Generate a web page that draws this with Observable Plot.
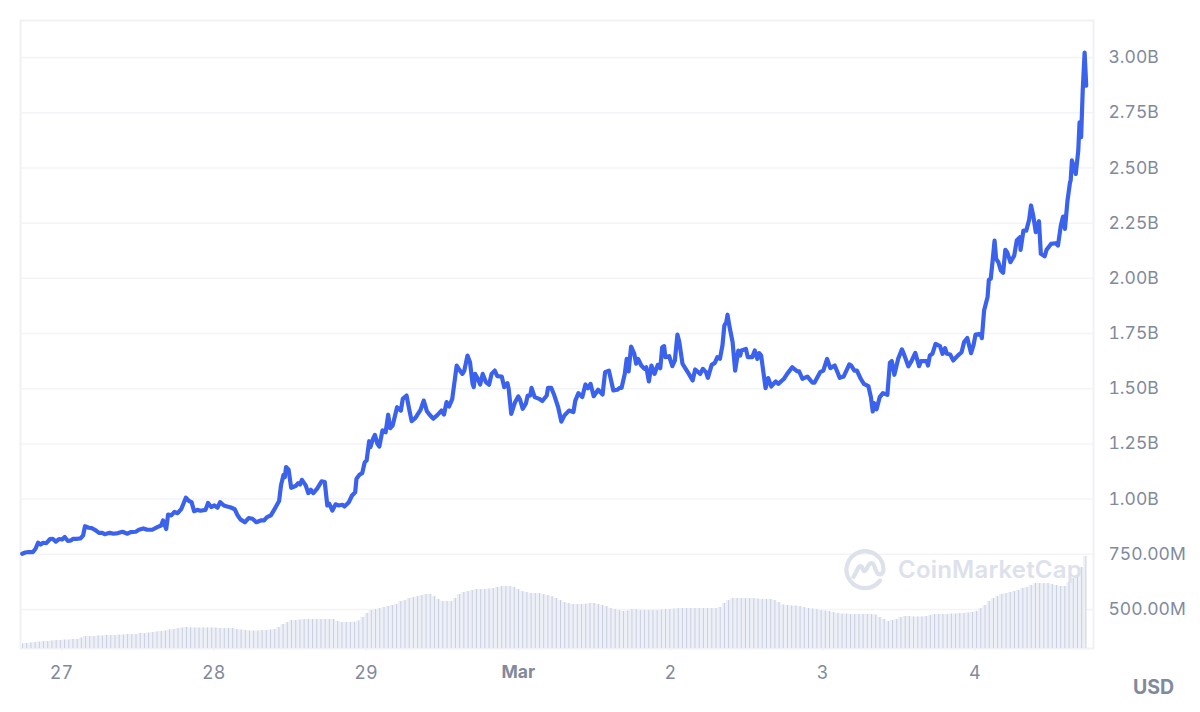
<!DOCTYPE html>
<html>
<head>
<meta charset="utf-8">
<script src="https://cdn.jsdelivr.net/npm/d3@7"></script>
<script src="https://cdn.jsdelivr.net/npm/@observablehq/plot@0.6"></script>
<style>
html,body{margin:0;padding:0;background:#fff;}
#wrap{position:relative;width:1200px;height:712px;font-family:Inter,"Noto Sans",sans-serif;overflow:hidden;}
#usd{position:absolute;left:1133px;top:676px;font-size:19.5px;font-weight:700;color:#808a9d;line-height:22px;}
#mark{position:absolute;left:844px;top:548px;pointer-events:none;}
#markText{position:absolute;left:898px;top:555px;font-size:24px;font-weight:600;color:#dde1ec;line-height:30px;letter-spacing:.2px;white-space:nowrap;}
</style>
</head>
<body>
<div id="wrap">
<div id="chart"></div>
<svg id="mark" width="44" height="44" viewBox="0 0 44 44" fill="none" stroke="#dde1ec" stroke-width="4.2" stroke-linecap="round" stroke-linejoin="round">
<path d="M36 32.5 A18.5 18.5 0 1 1 39.5 21 C39.5 26 36 27.5 33.5 25.5 C31.5 23.8 31 17 28.5 15.5 C26 14 24.5 17 23 20 C21.5 23 20 24.5 19 21.5 C18 18.5 16.5 16.5 14.5 19.5 L9.5 29"/>
</svg>
<div id="markText">CoinMarketCap</div>
<div id="usd">USD</div>
</div>
<script>
// Hours after 27 Feb 2024 00:00 UTC for each price reading
const priceHours = [
-6.2,-5.7,-5.2,-4.5,-4.1,-3.7,-3.3,-2.9,-2.4,-1.8,-1.4,-0.9,-0.4,0.1,0.5,1.0,1.5,1.8,2.5,3.0,3.4,3.7,4.3,4.8,5.4,5.9,6.4,6.8,7.6,8.2,8.9,9.6,10.4,10.9,11.7,12.2,12.9,13.5,14.3,15.1,15.7,16.0,16.5,16.8,17.3,17.8,18.3,18.9,19.6,20.1,20.5,20.9,21.4,21.9,22.7,23.1,23.6,24.1,24.6,25.0,
25.6,26.1,26.6,27.3,27.7,28.2,28.9,29.5,30.1,30.7,31.4,31.9,32.4,33.0,33.4,34.3,34.6,35.0,35.2,35.4,35.8,36.2,36.9,37.3,37.6,37.9,38.5,38.9,39.3,39.7,40.3,41.0,41.5,41.9,42.2,42.7,43.2,43.7,44.3,44.6,45.3,45.8,46.3,46.5,47.0,47.4,47.8,48.1,48.5,48.7,49.1,49.4,49.8,50.1,50.6,51.1,51.5,51.8,52.2,52.9,53.5,53.8,54.4,54.8,55.2,55.8,56.2,
56.6,57.1,57.6,58.0,58.6,59.2,59.9,60.3,60.7,61.1,61.6,62.3,62.8,63.2,63.5,64.0,64.4,64.8,65.0,65.2,65.5,66.0,66.4,66.9,67.4,67.8,68.3,68.7,69.4,69.8,70.3,70.5,70.9,71.5,72.0,72.3,72.7,73.2,73.5,73.9,74.1,74.6,75.3,75.8,76.5,76.7,77.2,77.7,78.3,78.8,79.3,80.0,80.7,81.0,81.5,82.1,82.6,83.0,83.4,83.9,84.6,85.3,85.7,86.3,87.0,87.6,88.0,
88.3,88.8,89.1,89.4,89.8,90.3,90.6,90.9,91.4,91.9,92.2,92.6,93.0,93.5,94.0,94.4,94.7,95.0,95.2,95.8,96.3,96.7,97.1,97.4,97.9,98.4,98.9,99.5,99.9,100.7,101.1,101.6,101.9,102.5,103.0,103.4,103.8,104.2,104.5,104.8,105.0,105.3,105.8,106.2,106.7,107.0,107.2,107.9,108.2,108.9,109.3,109.7,110.0,110.3,111.0,111.4,111.9,112.6,113.0,113.9,114.4,115.2,116.0,116.3,116.8,117.6,118.4,118.7,119.6,
120.1,120.7,121.2,121.9,122.7,123.3,124.2,124.5,125.0,125.4,126.0,126.5,127.2,127.6,127.9,128.1,128.5,129.0,129.5,130.2,130.6,130.9,131.3,131.9,132.5,132.9,133.5,134.0,134.6,135.2,135.5,136.4,136.6,136.9,137.3,137.8,138.5,138.9,139.3,139.6,140.1,140.6,141.3,141.9,142.3,142.8,143.4,143.8,
144.1,144.9,145.1,145.45,146.0,146.2,146.5,146.8,147.1,147.35,147.7,148.1,148.45,148.8,149.1,149.6,150.2,150.6,151.1,151.2,151.65,152.1,152.55,152.85,153.2,153.6,154.1,154.4,155.0,155.3,156.0,156.75,157.1,157.55,157.9,158.2,158.6,159.0,159.1,159.3,159.9,160.3,160.5,160.75,161.0,161.3,161.55];

// Market-cap style reading, in millions of USD
const priceMillions = [
752,758,760,760,775,802,794,802,800,819,820,807,819,817,828,810,813,820,820,822,835,877,870,868,858,847,847,841,847,843,846,852,843,850,852,861,867,861,861,873,880,903,864,930,926,942,936,956,1006,991,986,945,951,947,951,982,964,971,961,986,
971,966,963,954,929,908,895,914,911,895,903,903,918,926,945,991,1062,1110,1099,1145,1133,1051,1059,1072,1066,1087,1062,1027,1042,1027,1047,1080,1077,971,979,948,976,971,974,966,986,1016,1031,1092,1111,1117,1167,1175,1262,1235,1273,1291,1250,1238,1311,1303,1382,1321,1333,1416,1401,1454,1469,1409,1353,1368,1386,
1404,1446,1398,1383,1364,1379,1401,1383,1439,1419,1454,1605,1582,1567,1582,1650,1620,1522,1507,1567,1552,1519,1567,1530,1518,1567,1582,1557,1555,1507,1525,1499,1386,1439,1465,1450,1409,1432,1469,1469,1504,1462,1454,1444,1469,1504,1504,1469,1416,1351,1379,1401,1394,1446,1480,1462,1519,1502,1522,1466,1495,1474,1575,1582,1492,1495,1504,
1504,1567,1635,1578,1691,1658,1613,1635,1605,1590,1597,1533,1605,1567,1608,1593,1688,1693,1643,1647,1602,1628,1745,1711,1613,1590,1567,1537,1587,1567,1590,1575,1549,1608,1617,1643,1635,1696,1786,1801,1835,1783,1711,1582,1673,1650,1673,1680,1643,1643,1673,1635,1661,1650,1502,1548,1510,1533,1522,1545,1567,1597,1578,1578,1545,1555,1527,1527,1575,
1582,1635,1593,1605,1549,1555,1610,1605,1582,1582,1545,1522,1512,1462,1397,1435,1407,1462,1480,1472,1617,1625,1563,1635,1678,1650,1601,1625,1662,1602,1625,1625,1605,1650,1658,1703,1693,1658,1684,1658,1655,1628,1650,1665,1711,1730,1661,1700,
1745,1748,1729,1854,1915,1993,1998,2081,2171,2088,2073,2035,2025,2129,2118,2073,2103,2171,2186,2129,2216,2216,2265,2330,2284,2209,2259,2111,2100,2129,2156,2159,2149,2239,2280,2224,2352,2435,2443,2534,2473,2579,2707,2639,2851,3023,2873];

// Volume band read against the same axis, evenly sampled left to right
const volumeTops = [
344,346,348,350,352,355,355,357,359,359,361,361,364,364,371,377,377,377,380,380,382,382,382,384,384,386,386,386,391,391,393,395,398,400,402,407,409,414,416,418,416,416,416,416,416,416,416,414,414,414,414,409,407,405,402,402,402,405,405,407,409,418,432,441,450,450,452,454,454,454,454,454,454,454,454,445,441,441,441,442,448,463,482,495,500,504,509,513,518,522,536,540,549,554,558,563,568,568,558,545,536,536,536,549,568,577,581,586,590,590,590,592,595,599,604,604,604,599,590,581,577,572,572,572,568,563,558,549,540,531,527,522,522,522,524,527,527,522,518,513,504,500,495,491,493,500,500,495,495,495,495,495,497,500,500,502,504,504,504,504,504,504,504,504,504,504,509,527,540,549,549,549,549,549,549,547,545,545,545,540,531,520,518,515,515,513,509,504,502,500,495,493,491,486,482,479,479,477,477,477,477,477,477,475,463,454,445,450,454,463,468,468,466,466,466,468,472,477,477,477,477,479,479,482,482,484,486,491,504,518,536,549,558,568,572,577,581,586,595,599,608,617,617,617,617,613,608,604,604,622,640,654,690,740];

const yTicks = [500,750,1000,1250,1500,1750,2000,2250,2500,2750,3000];
const yLabels = ["500.00M","750.00M","1.00B","1.25B","1.50B","1.75B","2.00B","2.25B","2.50B","2.75B","3.00B"];
const dayTicks = ["2024-02-27","2024-02-28","2024-02-29","2024-03-01","2024-03-02","2024-03-03","2024-03-04"].map(d => new Date(d + "T00:00:00Z"));
const dayLabels = ["27","28","29","Mar","2","3","4"];
const boldDay = "Mar";

const t0 = Date.UTC(2024, 1, 27);
const toDate = h => new Date(t0 + h * 3600e3);
const price = priceHours.map((h, i) => ({t: toDate(h), v: priceMillions[i]}));
const volStart = -6.15, volEnd = 161.5;
const volume = volumeTops.map((v, i) => ({t: toDate(volStart + (volEnd - volStart) * i / (volumeTops.length - 1)), v}));
const yBase = 323, yTop = 3168;
const grey = "#808a9d";
const frame = "#eff1f6";

const plot = Plot.plot({
  width: 1200, height: 712,
  marginLeft: 20, marginRight: 107, marginTop: 20, marginBottom: 64,
  style: {fontFamily: "Inter, 'Noto Sans', sans-serif", background: "#fff", overflow: "visible"},
  x: {type: "utc", domain: [toDate(-6.47), toDate(162.7)]},
  y: {domain: [yBase, yTop]},
  marks: [
    Plot.ruleY(yTicks, {stroke: "#f3f4f8", strokeWidth: 1.5}),
    Plot.frame({stroke: frame, strokeWidth: 2}),
    Plot.areaY(volume, {x: "t", y1: yBase, y2: "v", fill: "#eef0f7", curve: "step"}),
    Plot.ruleX(volume, {x: "t", y1: yBase, y2: "v", stroke: "#c9cee0", strokeWidth: 1}),
    Plot.line(price, {x: "t", y: "v", stroke: "#3b62ec", strokeWidth: 4.2, strokeLinejoin: "round", strokeLinecap: "round"}),
    Plot.axisY({anchor: "right", ticks: yTicks, tickSize: 0, tickPadding: 15, textAnchor: "start", fontSize: 17.5, color: grey, label: null,
      tickFormat: v => yLabels[yTicks.indexOf(v)]}),
    Plot.axisX({ticks: dayTicks, tickSize: 3, stroke: frame, color: grey, fontSize: 18, tickPadding: 15, label: null,
      tickFormat: d => { const s = dayLabels[dayTicks.findIndex(x => +x === +d)]; return s === boldDay ? "" : s; }}),
    Plot.text(dayTicks.filter((d, i) => dayLabels[i] === boldDay), {x: d => d, frameAnchor: "bottom", dy: 29, text: () => boldDay, fontWeight: 700, fontSize: 17.5, fill: grey})
  ]
});
document.getElementById("chart").appendChild(plot);
</script>
</body>
</html>
